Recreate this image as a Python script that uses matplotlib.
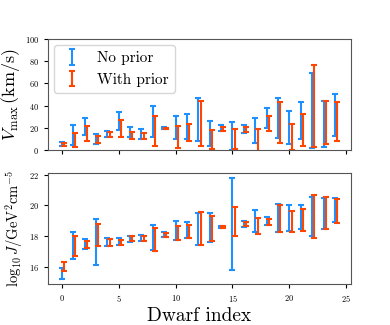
import numpy as np
import matplotlib
matplotlib.use("Agg")
import matplotlib.pyplot as plt

plt.rcParams["font.family"] = "serif"
plt.rcParams["font.serif"] = ["cmr10"]
plt.rcParams["mathtext.fontset"] = "cm"
plt.rcParams["axes.formatter.use_mathtext"] = True

# bounds of the intervals, one entry per dwarf
vmax_lo_noprior = [3.5, 4.2, 13.6, 5.7, 12.1, 18.2, 11.5, 9.6, 11.5, 19.0, 10.0, 10.3, 8.2,
                   3.6, 16.9, 0.3, 15.5, 6.0, 20.0, 11.2, 5.5, 10.3, 2.1, 3.0, 12.7]
vmax_hi_noprior = [7.0, 22.4, 28.7, 14.5, 17.5, 34.2, 20.5, 19.4, 39.6, 20.5, 30.9, 32.7, 46.6,
                   26.6, 22.4, 25.7, 23.0, 28.7, 37.5, 47.3, 35.1, 43.6, 69.4, 44.2, 50.9]
vmax_lo_prior = [4.0, 2.7, 8.5, 6.0, 12.1, 11.5, 10.0, 9.6, 3.3, 19.3, 2.1, 8.2, 3.6,
                 0.9, 16.9, 0.9, 16.0, -2.0, 16.9, 6.6, 0.0, 3.3, 2.7, 5.5, 8.2]
vmax_hi_prior = [6.0, 15.1, 21.5, 12.7, 16.0, 26.9, 16.6, 15.5, 30.5, 20.2, 21.5, 23.3, 43.9,
                 18.5, 20.9, 18.7, 20.5, 18.7, 30.5, 43.6, 23.3, 32.1, 76.9, 44.2, 43.6]

logj_lo_noprior = [15.24, 16.52, 17.21, 16.17, 17.40, 17.44, 17.66, 17.68, 17.10, 17.96, 17.79,
                   17.90, 17.47, 17.64, 18.55, 15.83, 18.63, 18.25, 18.72, 18.25, 18.35, 18.50,
                   18.05, 18.50, 18.96]
logj_hi_noprior = [15.95, 18.25, 17.83, 19.13, 17.90, 17.90, 18.05, 18.07, 18.76, 18.27, 19.02,
                   18.96, 19.54, 19.54, 18.70, 21.78, 18.98, 19.71, 19.24, 20.08, 20.03, 20.06,
                   20.58, 20.49, 20.49]
logj_lo_prior = [15.74, 16.71, 17.23, 17.38, 17.40, 17.47, 17.70, 17.72, 17.06, 17.96, 17.79,
                 17.90, 17.47, 17.70, 18.57, 18.00, 18.65, 18.14, 18.72, 18.25, 18.29, 18.37,
                 17.92, 18.50, 18.87]
logj_hi_prior = [16.37, 18.00, 17.70, 18.78, 17.83, 17.75, 18.00, 18.00, 18.54, 18.20, 18.70,
                 18.76, 19.56, 19.32, 18.68, 19.90, 18.93, 19.19, 19.13, 20.06, 19.64, 19.75,
                 20.68, 20.58, 20.42]

blue = "dodgerblue"
orange = "orangered"


def draw_bars(ax, x, lo, hi, color, label=None):
    lo = np.array(lo)
    hi = np.array(hi)
    mid = (lo + hi) / 2
    err = (hi - lo) / 2
    return ax.errorbar(x, mid, yerr=err, fmt="none", ecolor=color, elinewidth=1.5,
                       capsize=2.5, capthick=1.5, label=label)


idx = np.arange(len(vmax_lo_noprior))

fig, (ax1, ax2) = plt.subplots(2, 1, sharex=True, figsize=(3.9, 3.25), dpi=100)
fig.subplots_adjust(left=0.123, right=0.9, top=0.88, bottom=0.126, hspace=0.205)

draw_bars(ax1, idx, vmax_lo_noprior, vmax_hi_noprior, blue, "No prior")
draw_bars(ax1, idx + 0.2, vmax_lo_prior, vmax_hi_prior, orange, "With prior")
ax1.set_ylim(0, 100)
ax1.set_ylabel(r"$V_\mathrm{max}\,(\mathrm{km/s})$", fontsize=13, labelpad=2)
ax1.legend(loc="upper left", fontsize=11, handlelength=1.6, borderaxespad=0.4)

draw_bars(ax2, idx, logj_lo_noprior, logj_hi_noprior, blue)
draw_bars(ax2, idx + 0.2, logj_lo_prior, logj_hi_prior, orange)
ax2.set_ylabel(r"$\log_{10}J/\mathrm{GeV}^2\mathrm{cm}^{-5}$", fontsize=10.5, labelpad=3)
ax2.set_xlabel("Dwarf index", fontsize=14, labelpad=2)

for ax in (ax1, ax2):
    ax.tick_params(labelsize=6, length=3)
    for s in ax.spines.values():
        s.set_edgecolor("#555555")

fig.savefig("out.png", dpi=100)
